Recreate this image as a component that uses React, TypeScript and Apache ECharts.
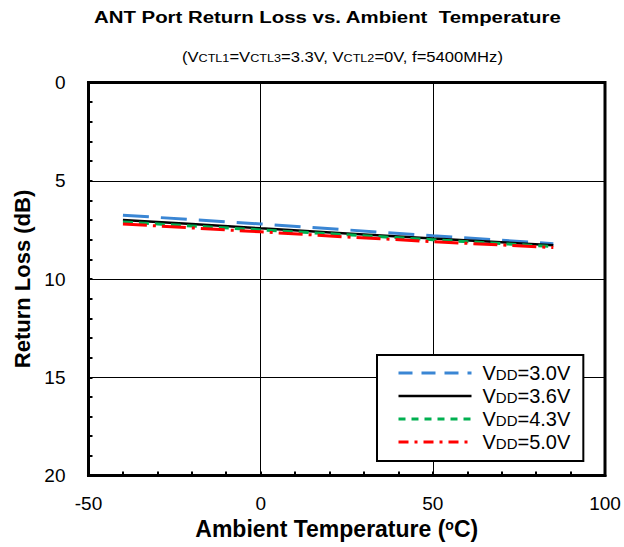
import React, { useEffect, useRef } from "react";
import * as echarts from "echarts";

const temps = [-40, -20, 0, 25, 50, 85];
const vdd30 = [6.75, 6.98, 7.2, 7.5, 7.8, 8.2];
const vdd36 = [7.0, 7.2, 7.42, 7.68, 7.94, 8.28];
const vdd43 = [7.1, 7.3, 7.5, 7.75, 8.0, 8.35];
const vdd50 = [7.2, 7.4, 7.6, 7.86, 8.1, 8.4];
const seriesNames = ["VDD=3.0V", "VDD=3.6V", "VDD=4.3V", "VDD=5.0V"];
const xTicks = [-50, 0, 50, 100];
const yTicks = [0, 5, 10, 15, 20];

const FONT = "'Liberation Sans', Arial, sans-serif";

export default function App() {
  const ref = useRef<HTMLDivElement>(null);
  useEffect(() => {
    if (!ref.current) return;
    const chart = echarts.init(ref.current, undefined, { renderer: "svg" });
    const pairs = (vals: number[]) => temps.map((t, i) => [t, vals[i]]);
    const colors = ["#3a86d4", "#000000", "#00b050", "#ff0000"];
    const dashes: any[] = [[26, 12], "solid", [10, 6], [24, 6, 3, 6]];
    const legendDashes: any[] = [[14, 9], "solid", [7, 6], [10, 6, 3, 6]];
    const widths = [3, 2.5, 3, 3];
    const all = [vdd30, vdd36, vdd43, vdd50];
    const option: any = {
      animation: false,
      textStyle: { fontFamily: FONT },
      graphic: [
        {
          type: "text",
          x: 94,
          y: 17.5,
          scaleX: 1.2,
          style: {
            text: "ANT Port Return Loss vs. Ambient  Temperature",
            font: `bold 17px ${FONT}`,
            fill: "#000",
            align: "left",
            verticalAlign: "middle",
          },
        },
        {
          type: "text",
          x: 182,
          y: 56.5,
          scaleX: 1.145,
          style: {
            text: "(V{s|CTL1}=V{s|CTL3}=3.3V, V{s|CTL2}=0V, f=5400MHz)",
            font: `14.5px ${FONT}`,
            fill: "#000",
            align: "left",
            verticalAlign: "middle",
            rich: {
              s: { fontSize: 11, fontFamily: FONT, fill: "#000", verticalAlign: "bottom" },
            },
          },
        },
      ],
      grid: {
        left: 88.5,
        right: 19,
        top: 82.5,
        bottom: 71.5,
        show: true,
        borderColor: "#000",
        borderWidth: 3,
        backgroundColor: "#fff",
      },
      legend: {
        orient: "vertical",
        left: 377,
        top: 355,
        padding: [8, 13, 9, 20],
        itemWidth: 73,
        itemHeight: 14,
        itemGap: 3,
        borderColor: "#000",
        borderWidth: 2,
        backgroundColor: "#fff",
        itemStyle: { opacity: 0 },
        data: seriesNames.map((n, i) => ({
          name: n,
          itemStyle: { opacity: 0, color: "transparent", borderWidth: 0 },
          lineStyle: { type: legendDashes[i], width: widths[i], color: colors[i] },
        })),
        formatter: (n: string) => `{b|V}{s|DD}{b|${n.slice(3)}}`,
        textStyle: {
          padding: [0, 0, 0, 6],
          rich: {
            b: { fontSize: 20, fontFamily: FONT, color: "#000" },
            s: { fontSize: 15, fontFamily: FONT, color: "#000", verticalAlign: "bottom", padding: [0, 0, 1, 0] },
          },
        },
      },
      xAxis: {
        type: "value",
        min: xTicks[0],
        max: xTicks[xTicks.length - 1],
        interval: 50,
        name: "Ambient Temperature ({sup|o}C)",
        nameLocation: "middle",
        nameGap: 42,
        nameTextStyle: {
          fontSize: 23,
          fontWeight: "bold",
          color: "#000",
          fontFamily: FONT,
          padding: [0, 20, 0, 0],
          rich: {
            sup: { fontSize: 14, fontWeight: "bold", fontFamily: FONT, color: "#000", verticalAlign: "top", padding: [0, 0, 8, 0] },
          },
        },
        axisLine: { show: true, onZero: false, lineStyle: { color: "#000", width: 3 } },
        axisTick: { show: true, inside: true, length: 4, lineStyle: { color: "#000", width: 2 } },
        minorTick: { show: true, splitNumber: 5, length: 4, lineStyle: { color: "#000", width: 2 } },
        splitLine: { show: true, lineStyle: { color: "#000", width: 1 } },
        axisLabel: { fontSize: 19, color: "#000", margin: 18, fontFamily: FONT },
      },
      yAxis: {
        type: "value",
        inverse: true,
        min: yTicks[0],
        max: yTicks[yTicks.length - 1],
        interval: 5,
        name: "Return Loss (dB)",
        nameLocation: "middle",
        nameGap: 54,
        nameTextStyle: { fontSize: 22, fontWeight: "bold", color: "#000", fontFamily: FONT },
        axisLine: { show: true, onZero: false, lineStyle: { color: "#000", width: 3 } },
        axisTick: { show: true, inside: true, length: 4, lineStyle: { color: "#000", width: 2 } },
        minorTick: { show: true, splitNumber: 5, length: 4, lineStyle: { color: "#000", width: 2 } },
        splitLine: { show: true, lineStyle: { color: "#000", width: 1 } },
        axisLabel: { fontSize: 19, color: "#000", margin: 23, fontFamily: FONT },
      },
      series: all.map((vals, i) => ({
        name: seriesNames[i],
        type: "line",
        data: pairs(vals),
        symbol: "none",
        smooth: false,
        color: colors[i],
        lineStyle: { color: colors[i], width: widths[i], type: dashes[i] },
        z: 2 + i,
      })),
    };
    chart.setOption(option);
    return () => chart.dispose();
  }, []);
  return (
    <div
      ref={ref}
      style={{ position: "absolute", left: 0, top: 0, width: 624, height: 547, background: "#fff" }}
    />
  );
}
